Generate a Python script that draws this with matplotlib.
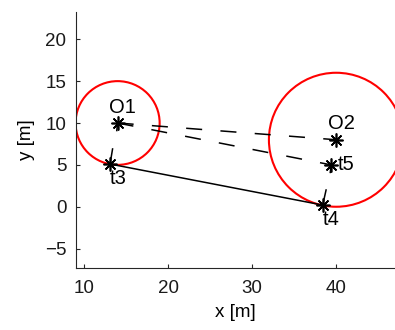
import matplotlib
matplotlib.use("Agg")
import matplotlib.pyplot as plt
from matplotlib.patches import Circle

plt.rcParams['font.family'] = ['Liberation Sans', 'DejaVu Sans']

# obstacles (centre, radius)
obs_names = ["O1", "O2"]
obs_x = [14.0, 40.0]
obs_y = [10.0, 8.0]
obs_r = [5.0, 8.0]

# targets
tgt_names = ["t3", "t4", "t5"]
tgt_x = [13.1, 38.4, 39.4]
tgt_y = [5.1, 0.2, 5.0]

# heading segment end points for each target
head_x = [13.4, 38.8, 39.3]
head_y = [6.9, 2.0, 4.1]

# obstacle O1 heading end point
o1_head_x = [14.0, 13.9]
o1_head_y = [10.0, 9.1]

fig = plt.figure(figsize=(3.95, 3.30), dpi=100)
ax = fig.add_axes([0.1924, 0.188, 0.8076, 0.776])

# circles around obstacles
for cx, cy, r in zip(obs_x, obs_y, obs_r):
    ax.add_patch(Circle((cx, cy), r, fill=False, edgecolor="red", linewidth=1.5, zorder=2))

# dashed sight lines from O1 to O2 and O1 to t5
ax.plot([obs_x[0], obs_x[1]], [obs_y[0], obs_y[1]], color="black", linewidth=1.1,
        dashes=(10.5, 12.0), zorder=3)
ax.plot([obs_x[0], tgt_x[2]], [obs_y[0], tgt_y[2]], color="black", linewidth=1.1,
        dashes=(10.5, 12.0), zorder=3)

# path t3 -> t4
ax.plot([tgt_x[0], tgt_x[1]], [tgt_y[0], tgt_y[1]], color="black", linewidth=1.1, zorder=3)

# heading segments
for x0, y0, x1, y1 in zip(tgt_x, tgt_y, head_x, head_y):
    ax.plot([x0, x1], [y0, y1], color="black", linewidth=1.1, zorder=3)
ax.plot(o1_head_x, o1_head_y, color="black", linewidth=1.1, zorder=3)

# markers
star = (8, 2, 0)
ax.plot(obs_x, obs_y, linestyle="None", marker=star, markersize=10,
        markeredgewidth=1.2, color="black", zorder=4)
ax.plot(tgt_x, tgt_y, linestyle="None", marker=star, markersize=10,
        markeredgewidth=1.2, color="black", zorder=4)

# labels
for name, x, y in zip(obs_names, obs_x, obs_y):
    ax.text(x - 1.0, y + 1.9, name, fontsize=14.5, ha="left", va="center")
ax.text(tgt_x[0], tgt_y[0] - 1.7, tgt_names[0], fontsize=14.5, ha="left", va="center")
ax.text(tgt_x[1], tgt_y[1] - 1.7, tgt_names[1], fontsize=14.5, ha="left", va="center")
ax.text(tgt_x[2] + 0.8, tgt_y[2], tgt_names[2], fontsize=14.5, ha="left", va="center")

ax.set_xlim(9.05, 47.0)
ax.set_ylim(-7.31, 23.27)
ax.set_xticks([10, 20, 30, 40])
ax.set_yticks([-5, 0, 5, 10, 15, 20])
ax.set_xlabel("x [m]", fontsize=13.5, labelpad=5)
ax.set_ylabel("y [m]", fontsize=13.5, labelpad=7)

for s in ["top", "right"]:
    ax.spines[s].set_visible(False)
for s in ["left", "bottom"]:
    ax.spines[s].set_color("#262626")
    ax.spines[s].set_linewidth(0.8)
ax.tick_params(direction="in", length=3, width=0.8, labelsize=13.5, colors="#262626")
ax.tick_params(axis="x", pad=9)
ax.tick_params(axis="y", pad=7)
for lbl in ax.get_xticklabels() + ax.get_yticklabels():
    lbl.set_color("#1a1a1a")

fig.savefig("out.png", dpi=100)
